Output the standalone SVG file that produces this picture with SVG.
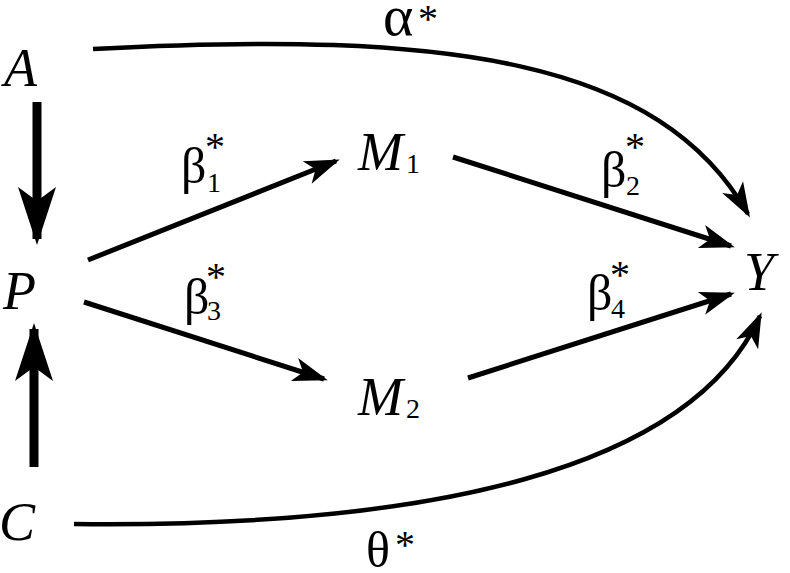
<svg xmlns="http://www.w3.org/2000/svg" width="790" height="573" viewBox="0 0 790 573">
<defs>
<style>
.var{font-family:"Liberation Serif","Times New Roman",serif;font-style:italic;font-size:54px;fill:#000}
.gk{font-family:"Liberation Serif","Times New Roman",serif;font-size:50px;fill:#000}
.al{font-family:"Liberation Serif","Times New Roman",serif;font-size:58px;fill:#000}
.sub{font-family:"Liberation Serif","Times New Roman",serif;font-size:28px;fill:#000}
.star{font-family:"Liberation Serif","Times New Roman",serif;font-size:40px;fill:#000}
.thin{fill:none;stroke:#000;stroke-width:5;marker-end:url(#ah)}
.curve{fill:none;stroke:#000;stroke-width:4.5;marker-end:url(#ah)}
.thick{fill:none;stroke:#000;stroke-width:9;marker-end:url(#ahb)}
</style>
<marker id="ah" markerUnits="userSpaceOnUse" viewBox="-34 -14 42 28" markerWidth="42" markerHeight="28" refX="0" refY="0" orient="auto" overflow="visible">
<path d="M4,0 L-31,-12 L-22,0 L-31,12 Z" fill="#000"/>
</marker>
<marker id="ahb" markerUnits="userSpaceOnUse" viewBox="-62 -22 72 44" markerWidth="72" markerHeight="44" refX="0" refY="0" orient="auto" overflow="visible">
<path d="M6,0 L-52,-19 L-38,0 L-52,19 Z" fill="#000"/>
</marker>
</defs>
<g id="connectors">
<path class="curve" d="M93,49 C450,30 660,60 748,214"/>
<path class="curve" d="M74,524 C430,528 690,470 760,316"/>
<line class="thin" x1="88" y1="260" x2="336" y2="161"/>
<line class="thin" x1="453" y1="157" x2="731" y2="246"/>
<line class="thin" x1="84" y1="302" x2="324" y2="379"/>
<line class="thin" x1="468" y1="378" x2="731" y2="294"/>
<line class="thick" x1="37" y1="102" x2="37" y2="239"/>
<line class="thick" x1="34" y1="467" x2="34" y2="329"/>
</g>
<g id="node-A"><text class="var" x="4" y="86">A</text></g>
<g id="node-P"><text class="var" x="3" y="309">P</text></g>
<g id="node-C"><text class="var" x="-1" y="540">C</text></g>
<g id="node-M1"><text class="var" x="358" y="170">M</text><text class="sub" x="406" y="173">1</text></g>
<g id="node-M2"><text class="var" x="358" y="415">M</text><text class="sub" x="406" y="418">2</text></g>
<g id="node-Y"><text class="var" x="744" y="290">Y</text></g>
<g id="labels">
<text class="al" x="383" y="35">α</text><text class="star" x="418" y="32">*</text>
<text class="gk" x="181" y="183">β</text><text class="sub" x="207" y="192">1</text><text class="star" x="205" y="160">*</text>
<text class="gk" x="601" y="187">β</text><text class="sub" x="626" y="195">2</text><text class="star" x="625" y="160">*</text>
<text class="gk" x="184" y="314">β</text><text class="sub" x="207" y="320">3</text><text class="star" x="206" y="290">*</text>
<text class="gk" x="587" y="310">β</text><text class="sub" x="611" y="318">4</text><text class="star" x="610" y="288">*</text>
<text class="gk" x="366" y="567">θ</text><text class="star" x="395" y="558">*</text>
</g>
</svg>
